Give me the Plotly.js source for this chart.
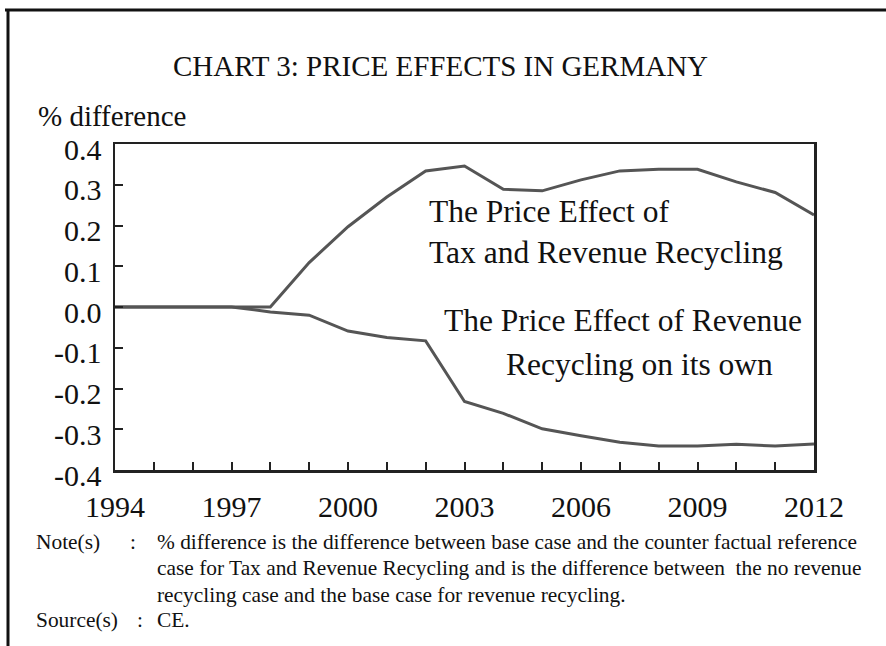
<!DOCTYPE html>
<html>
<head>
<meta charset="utf-8">
<script src="https://cdn.plot.ly/plotly-3.0.1.min.js"></script>
<style>
  html, body { margin: 0; padding: 0; background: #ffffff; }
  #chart { width: 886px; height: 646px; }
</style>
</head>
<body>
<div id="chart"></div>
<script>
// ---- data ----
var years = [1994, 1995, 1996, 1997, 1998, 1999, 2000, 2001, 2002, 2003,
             2004, 2005, 2006, 2007, 2008, 2009, 2010, 2011, 2012];
var taxAndRevenueRecycling = [0, 0, 0, 0, 0, 0.109, 0.197, 0.27, 0.334, 0.346,
                              0.289, 0.285, 0.312, 0.334, 0.338, 0.338, 0.307, 0.281, 0.226];
var revenueRecyclingOnly = [0, 0, 0, 0, -0.012, -0.02, -0.059, -0.075, -0.083, -0.232,
                            -0.261, -0.299, -0.316, -0.332, -0.341, -0.341, -0.337, -0.341, -0.336];
var xTickVals = [1994, 1997, 2000, 2003, 2006, 2009, 2012];
var xTickText = ["1994", "1997", "2000", "2003", "2006", "2009", "2012"];
var yTickVals = [-0.4, -0.3, -0.2, -0.1, 0, 0.1, 0.2, 0.3, 0.4];
var yTickText = ["-0.4", "-0.3", "-0.2", "-0.1", "0.0", "0.1", "0.2", "0.3", "0.4"];

var titleText = "CHART 3: PRICE EFFECTS IN GERMANY";
var yLabel = "% difference";
var label1 = "The Price Effect of<br>Tax and Revenue Recycling";
var label2a = "The Price Effect of Revenue";
var label2b = "Recycling on its own";
var noteHead = "Note(s)";
var noteLines = [
  "% difference is the difference between base case and the counter factual reference",
  "case for Tax and Revenue Recycling and is the difference between&nbsp; the no revenue",
  "recycling case and the base case for revenue recycling."
];
var sourceHead = "Source(s)";
var sourceText = "CE.";

// ---- layout geometry (pixels) ----
var W = 886, H = 646;
var L = 115, R = 72, T = 144, B = 176;
var pw = W - L - R, ph = H - T - B;
function px(x) { return (x - L) / pw; }
function py(y) { return (H - B - y) / ph; }

var FONT = "Liberation Serif, Times New Roman, serif";
var lineColor = "#555555";

var traces = [
  { x: years, y: taxAndRevenueRecycling, type: "scatter", mode: "lines",
    line: { color: lineColor, width: 3 }, hoverinfo: "skip", showlegend: false },
  { x: years, y: revenueRecyclingOnly, type: "scatter", mode: "lines",
    line: { color: lineColor, width: 3 }, hoverinfo: "skip", showlegend: false }
];

function ann(text, x, y, size, xanchor, align) {
  return { text: text, xref: "paper", yref: "paper", x: px(x), y: py(y),
           xanchor: xanchor || "left", yanchor: "middle", align: align || "left",
           showarrow: false, font: { family: FONT, size: size, color: "#111111" } };
}

var annotations = [
  ann(yLabel, 36, 116, 29),
  ann(label1, 427, 232, 31.5),
  ann(label2a, 442, 320, 31.5),
  ann(label2b, 504, 364, 31.5),
  ann(noteHead, 34, 542, 21.4),
  ann(":", 128, 542, 21.4),
  ann(noteLines[0], 155, 542, 21.4),
  ann(noteLines[1], 155, 568, 21.4),
  ann(noteLines[2], 155, 595, 21.4),
  ann(sourceHead, 34, 620, 21.4),
  ann(":", 135, 620, 21.4),
  ann(sourceText, 155, 620, 21.4)
];

var shapes = [
  { type: "line", xref: "paper", yref: "paper", x0: px(5), x1: px(900), y0: py(10), y1: py(10),
    line: { color: "#111111", width: 3 } },
  { type: "line", xref: "paper", yref: "paper", x0: px(8), x1: px(8), y0: py(10), y1: py(660),
    line: { color: "#111111", width: 3 } }
];

var layout = {
  width: W, height: H,
  margin: { l: L, r: R, t: T, b: B, pad: 0 },
  paper_bgcolor: "#ffffff", plot_bgcolor: "#ffffff",
  font: { family: FONT, color: "#111111" },
  title: { text: titleText, xref: "container", yref: "container",
           x: 440.5 / W, y: 1 - 66 / H, xanchor: "center", yanchor: "middle",
           font: { family: FONT, size: 29, color: "#111111" } },
  xaxis: {
    range: [1994, 2012], tickmode: "array", tickvals: xTickVals, ticktext: xTickText,
    ticks: "inside", ticklen: 8, tickwidth: 2, tickcolor: "#222222",
    minor: { dtick: 1, tick0: 1994, ticks: "inside", ticklen: 8, tickwidth: 2, tickcolor: "#222222", showgrid: false },
    showline: true, linecolor: "#222222", linewidth: 2.5, mirror: true,
    showgrid: false, zeroline: false, ticklabelstandoff: 8,
    tickfont: { family: FONT, size: 30, color: "#111111" }, fixedrange: true
  },
  yaxis: {
    range: [-0.4, 0.4], tickmode: "array", tickvals: yTickVals, ticktext: yTickText,
    ticks: "inside", ticklen: 8, tickwidth: 2, tickcolor: "#222222",
    showline: true, linecolor: "#222222", linewidth: 2.5, mirror: true,
    showgrid: false, zeroline: false, ticklabelstandoff: 5, ticklabelshift: 5,
    tickfont: { family: FONT, size: 30, color: "#111111" }, fixedrange: true
  },
  annotations: annotations,
  shapes: shapes,
  showlegend: false
};

Plotly.newPlot("chart", traces, layout, { displayModeBar: false, staticPlot: true });
</script>
</body>
</html>
